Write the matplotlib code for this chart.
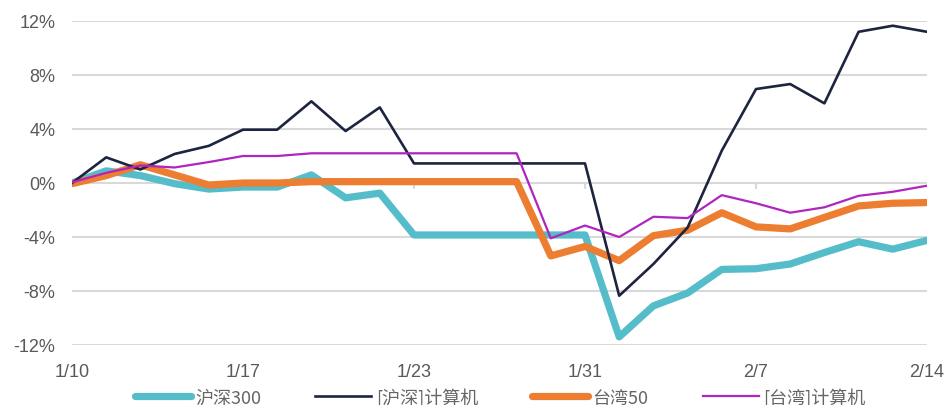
import numpy as np
import matplotlib
matplotlib.use('Agg')
import matplotlib.pyplot as plt
from matplotlib.ticker import FuncFormatter

plt.rcParams['font.family'] = ['Liberation Sans', 'Noto Sans CJK SC', 'DejaVu Sans']

# datos (% de variación acumulada)
tick_labels = ['1/10', '1/17', '1/23', '1/31', '2/7', '2/14']
hs300 = [0, 0.9, 0.55, -0.05, -0.45, -0.3, -0.3, 0.6, -1.1, -0.75,
         -3.85, -3.85, -3.85, -3.85, -3.85, -3.85, -11.4, -9.1, -8.15, -6.4,
         -6.35, -6.0, -5.15, -4.35, -4.9, -4.25]
hs_comp = [0, 1.9, 1.0, 2.15, 2.75, 3.95, 3.95, 6.05, 3.85, 5.6,
           1.45, 1.45, 1.45, 1.45, 1.45, 1.45, -8.35, -6.0, -3.3, 2.4,
           6.96, 7.33, 5.9, 11.2, 11.65, 11.2]
tw50 = [-0.05, 0.55, 1.35, 0.6, -0.15, 0, 0, 0.1, 0.1, 0.1,
        0.1, 0.1, 0.1, 0.1, -5.4, -4.7, -5.75, -3.9, -3.5, -2.2,
        -3.25, -3.4, -2.55, -1.7, -1.5, -1.45]
tw_comp = [0.05, 0.75, 1.3, 1.15, 1.55, 2.0, 2.0, 2.2, 2.2, 2.2,
           2.2, 2.2, 2.2, 2.2, -4.1, -3.15, -4.0, -2.5, -2.6, -0.9,
           -1.5, -2.2, -1.8, -0.95, -0.65, -0.2]

x = np.arange(len(hs300))
tick_pos = x[::5]

fig = plt.figure(figsize=(9.46, 4.06), dpi=100)
ax = fig.add_axes([72 / 946, 1 - 346 / 406, 855 / 946, 324 / 406])

ax.plot(x, hs300, color='#55BDCA', lw=5.2, label='沪深300', zorder=3,
        solid_capstyle='round', solid_joinstyle='round')
ax.plot(x, hs_comp, color='#1D2440', lw=1.9, label='[沪深]计算机', zorder=5)
ax.plot(x, tw50, color='#ED7D31', lw=5.2, label='台湾50', zorder=4,
        solid_capstyle='round', solid_joinstyle='round')
ax.plot(x, tw_comp, color='#B024BF', lw=1.6, label='[台湾]计算机', zorder=6)

# marcas del eje horizontal sobre la línea 0%
ax.vlines(tick_pos[1:-1], -0.45, 0, color='#D9D9D9', lw=1.5, zorder=1)

ax.set_xlim(0, len(x) - 1)
ax.set_ylim(-12, 12)
ax.set_yticks([-12, -8, -4, 0, 4, 8, 12])
ax.yaxis.set_major_formatter(FuncFormatter(lambda v, p: f'{v:.0f}%'))
ax.set_xticks(tick_pos)
ax.set_xticklabels(tick_labels)
ax.grid(axis='y', color='#D9D9D9', lw=1.5, zorder=0)
ax.set_axisbelow(True)
for s in ax.spines.values():
    s.set_visible(False)
ax.tick_params(axis='both', length=0, labelsize=13, labelcolor='#595959')
ax.tick_params(axis='y', pad=12)
ax.tick_params(axis='x', pad=13)

leg = fig.legend(loc='lower center', bbox_to_anchor=(500 / 946, -0.045), ncol=4, frameon=False,
                 fontsize=13, handlelength=3.1, handletextpad=0.25, columnspacing=3.0)
for t in leg.get_texts():
    t.set_color('#666666')
    t.set_family(['Noto Sans CJK SC', 'DejaVu Sans'])

fig.savefig('out.png', dpi=100)
